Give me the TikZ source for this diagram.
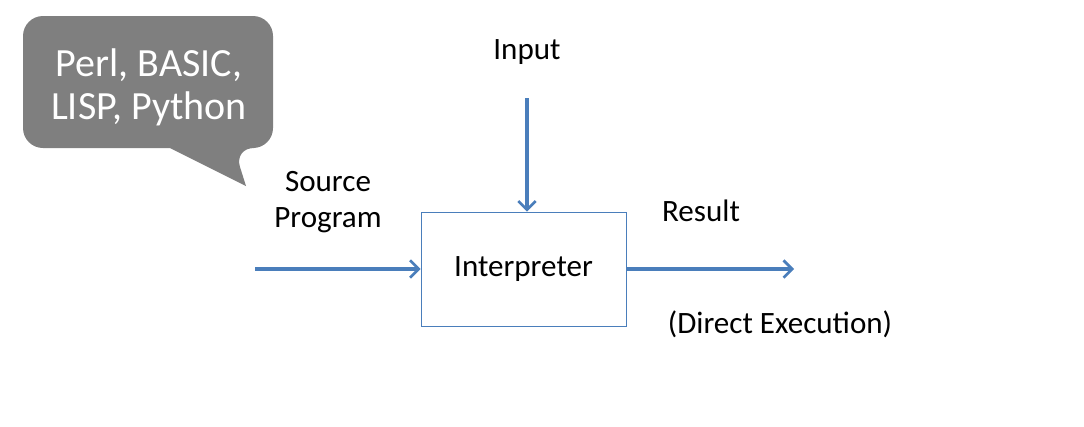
\documentclass[tikz,border=0pt]{standalone}
\usepackage{fontspec}
\setmainfont{Carlito}
\usetikzlibrary{arrows.meta}
\definecolor{flowblue}{RGB}{74,126,187}
\definecolor{bubblegray}{RGB}{127,127,127}
\begin{document}
\begin{tikzpicture}[x=0.75pt, y=-0.75pt,
  every node/.style={font=\fontsize{23.3}{27.5}\selectfont},
  procbox/.style={draw=flowblue, line width=0.7pt, minimum width=153.75pt, minimum height=85.5pt, inner sep=0pt},
  flow/.style={flowblue, line width=2.5pt, -{Straight Barb[length=6.5pt, width=13pt, line width=2pt]}},
  bubble/.style={fill=bubblegray, rounded corners=15pt}]
  \useasboundingbox (0,0) rectangle (1084,426);
  % Speech bubble
  \fill[bubble] (23,16) -- (273,16) -- (273,148) -- (234,148) [sharp corners] -- (246,186)
    -- (170,148) [rounded corners=15pt] -- (23,148) -- cycle;
  \node[white, align=center, font=\fontsize{30}{32.5}\selectfont] (langs) at (149,87) {Perl, BASIC,\\LISP, Python};
  % Interpreter and labels
  \node[procbox] (interp) at (523.5,269) {Interpreter};
  \node (input) at (527,52) {Input};
  \node[align=center] (source) at (328,202) {Source\\Program};
  \node (result) at (701,211) {Result};
  \node (direct) at (780,324) {(Direct Execution)};
  \coordinate (inputstart) at (527,98);
  \coordinate (srcstart) at (255,269);
  \coordinate (resend) at (794,269);
  % Arrows
  \draw[flow] (inputstart) -- (inputstart |- interp.north);
  \draw[flow] (srcstart) -- (interp.west);
  \draw[flow] (interp.east) -- (resend);
\end{tikzpicture}
\end{document}
